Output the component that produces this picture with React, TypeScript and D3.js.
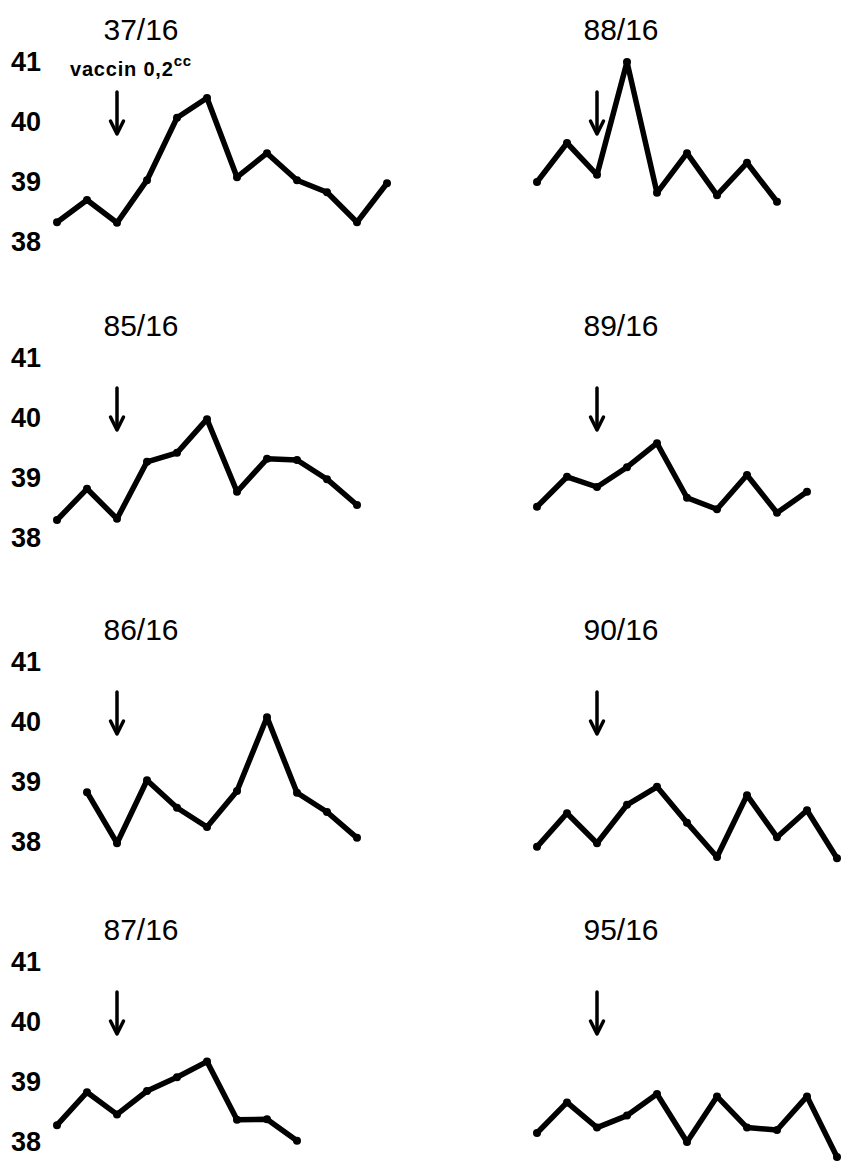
import React from "react";
import * as d3 from "d3";

// ---- data ----
const panelNames = ["37/16", "88/16", "85/16", "89/16", "86/16", "90/16", "87/16", "95/16"];
const temps37 = [38.33, 38.7, 38.32, 39.03, 40.07, 40.4, 39.08, 39.48, 39.03, 38.83, 38.33, 38.98];
const temps88 = [39.0, 39.65, 39.12, 41.0, 38.82, 39.48, 38.78, 39.32, 38.67];
const temps85 = [38.3, 38.82, 38.32, 39.27, 39.42, 39.98, 38.77, 39.32, 39.3, 38.98, 38.55];
const temps89 = [38.52, 39.02, 38.85, 39.18, 39.58, 38.67, 38.48, 39.05, 38.42, 38.77];
const temps86 = [38.83, 37.98, 39.03, 38.57, 38.25, 38.85, 40.08, 38.82, 38.5, 38.07];
const temps90 = [37.92, 38.48, 37.98, 38.62, 38.92, 38.32, 37.75, 38.78, 38.08, 38.53, 37.73];
const temps87 = [38.28, 38.83, 38.46, 38.85, 39.08, 39.34, 38.37, 38.38, 38.02];
const temps95 = [38.15, 38.66, 38.24, 38.44, 38.8, 38.0, 38.76, 38.24, 38.2, 38.76, 37.75];
const panelTemps = [temps37, temps88, temps85, temps89, temps86, temps90, temps87, temps95];
const startSlots = [0, 0, 0, 0, 1, 0, 0, 0];
const vaccinSlot = 2;
const arrowTop = 40.5;
const arrowBottom = 39.8;
const yTicks = [38, 39, 40, 41];
const tickLabels = ["38", "39", "40", "41"];
const vaccinLabel = "vaccin 0,2";
const vaccinUnit = "cc";

// ---- layout ----
const W = 844;
const H = 1162;
const rowBase = [242, 538, 842, 1142];
const colX0 = [57, 537];
const slotStep = 30;
const degPx = 60;

const FONT = "'Liberation Sans', Arial, sans-serif";

export default function App() {
  const line = d3.line<[number, number]>().x((d) => d[0]).y((d) => d[1]);

  return (
    <svg
      width={W}
      height={H}
      viewBox={`0 0 ${W} ${H}`}
      style={{ position: "absolute", left: 0, top: 0, background: "#fff" }}
    >
      <rect width={W} height={H} fill="#fff" />
      {panelNames.map((name, i) => {
        const row = Math.floor(i / 2);
        const col = i % 2;
        const base = rowBase[row];
        const y = d3.scaleLinear().domain([38, 41]).range([base, base - 3 * degPx]);
        const x = d3
          .scaleLinear()
          .domain([0, 1])
          .range([colX0[col], colX0[col] + slotStep]);
        const temps = panelTemps[i];
        const pts: [number, number][] = temps.map((t, k) => [x(k + startSlots[i]), y(t)]);
        const ax = x(vaccinSlot);
        const ay1 = y(arrowTop);
        const ay2 = y(arrowBottom);
        return (
          <g key={name}>
            <text
              x={x(2.8)}
              y={y(41.55)}
              textAnchor="middle"
              dominantBaseline="central"
              fontFamily={FONT}
              fontSize={30}
              fill="#000"
            >
              {name}
            </text>
            {col === 0 &&
              yTicks.map((v, k) => (
                <text
                  key={v}
                  x={26}
                  y={y(v)}
                  textAnchor="middle"
                  dominantBaseline="central"
                  fontFamily={FONT}
                  fontWeight="bold"
                  fontSize={27}
                  fill="#000"
                >
                  {tickLabels[k]}
                </text>
              ))}
            {i === 0 && (
              <text
                x={70}
                y={y(40.88)}
                dominantBaseline="central"
                fontFamily={FONT}
                fontWeight="bold"
                fontSize={20}
                letterSpacing={0.8}
                fill="#000"
              >
                {vaccinLabel}
                <tspan fontSize={15} dy={-9}>
                  {vaccinUnit}
                </tspan>
              </text>
            )}
            <line x1={ax} x2={ax} y1={ay1} y2={ay2 - 2} stroke="#000" strokeWidth={3.5} strokeLinecap="round" />
            <path
              d={`M${ax - 6.5},${ay2 - 13} L${ax},${ay2} L${ax + 6.5},${ay2 - 13}`}
              fill="none"
              stroke="#000"
              strokeWidth={3.5}
              strokeLinecap="round"
              strokeLinejoin="round"
            />
            <path
              d={line(pts) || ""}
              fill="none"
              stroke="#000"
              strokeWidth={5.5}
              strokeLinejoin="round"
              strokeLinecap="round"
            />
            {pts.map((p, k) => (
              <circle key={k} cx={p[0]} cy={p[1]} r={4} fill="#000" />
            ))}
          </g>
        );
      })}
    </svg>
  );
}
